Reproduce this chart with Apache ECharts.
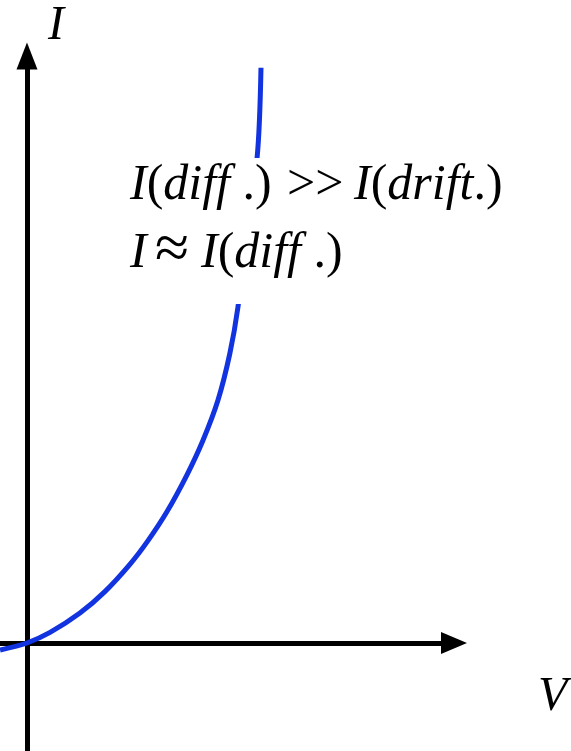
<!DOCTYPE html>
<html>
<head>
<meta charset="utf-8">
<script src="https://cdn.jsdelivr.net/npm/echarts@6/dist/echarts.min.js"></script>
<style>
  html, body { margin: 0; padding: 0; background: #ffffff; }
  #chart { width: 571px; height: 751px; }
</style>
</head>
<body>
<div id="chart"></div>
<script>
// Forward-biased diode characteristic: voltage (arbitrary units) vs current (arbitrary units)
const voltage = [-0.063, 0, 0.054, 0.124, 0.183, 0.241, 0.283, 0.328, 0.375, 0.412, 0.447, 0.475, 0.494, 0.539, 0.548];
const current = [-0.12, 0, 0.18, 0.51, 0.88, 1.34, 1.74, 2.24, 2.87, 3.45, 4.13, 4.93, 5.72, 8.28, 9.80];

const axisNameV = 'V';
const axisNameI = 'I';

const chart = echarts.init(document.getElementById('chart'), null, { renderer: 'canvas' });

const curve = voltage.map((v, i) => [v, current[i]]);

const serif = 'Liberation Serif';
const mathSize = 50;
const mathRich = {
  v: { fontFamily: serif, fontStyle: 'italic', fontSize: mathSize, fill: '#000', color: '#000' },
  p: { fontFamily: serif, fontStyle: 'normal', fontSize: mathSize, fill: '#000', color: '#000' },
  rel: { fontFamily: serif, fontStyle: 'normal', fontSize: 62, fill: '#000', color: '#000' }
};

function mathText(left, top, text, size) {
  return {
    type: 'text',
    left: left,
    top: top,
    z: 101,
    style: {
      text: text,
      rich: mathRich,
      fill: '#000',
      fontFamily: serif,
      fontSize: size || mathSize
    }
  };
}

chart.setOption({
  animation: false,
  backgroundColor: '#ffffff',
  grid: { left: 0, right: 117, top: 56, bottom: 0, containLabel: false },
  xAxis: {
    type: 'value',
    min: -0.0632,
    max: 1,
    axisLine: {
      onZero: true,
      lineStyle: { color: '#000', width: 5 },
      symbol: ['none', 'triangle'],
      symbolSize: [22, 26]
    },
    axisTick: { show: false },
    axisLabel: { show: false },
    splitLine: { show: false }
  },
  yAxis: {
    type: 'value',
    min: -1.84,
    max: 10,
    axisLine: {
      onZero: true,
      lineStyle: { color: '#000', width: 5 },
      symbol: ['none', 'triangle'],
      symbolSize: [21, 27]
    },
    axisTick: { show: false },
    axisLabel: { show: false },
    splitLine: { show: false }
  },
  series: [{
    type: 'line',
    data: curve,
    smooth: 0.3,
    showSymbol: false,
    clip: false,
    lineStyle: { color: '#1233e0', width: 5 }
  }],
  graphic: [
    // axis titles
    { type: 'text', left: 48, top: 2, z: 100,
      style: { text: axisNameI, fontFamily: serif, fontStyle: 'italic', fontSize: 48, fill: '#000' } },
    { type: 'text', left: 538, top: 673, z: 100,
      style: { text: axisNameV, fontFamily: serif, fontStyle: 'italic', fontSize: 48, fill: '#000' } },
    // annotation panel
    { type: 'rect', z: 100, shape: { x: 120, y: 158, width: 400, height: 146 },
      style: { fill: '#ffffff' } },
    mathText(130, 161, '{v|I}{p|(}{v|diff}{p| .)}'),
    mathText(287, 161, '{p|>>}'),
    mathText(354, 161, '{v|I}{p|(}{v|drift}{p|.)}'),
    mathText(130, 229, '{v|I}'),
    mathText(155, 221, '{rel|≈}', 62),
    mathText(201, 229, '{v|I}{p|(}{v|diff}{p| .)}')
  ]
});
</script>
</body>
</html>
